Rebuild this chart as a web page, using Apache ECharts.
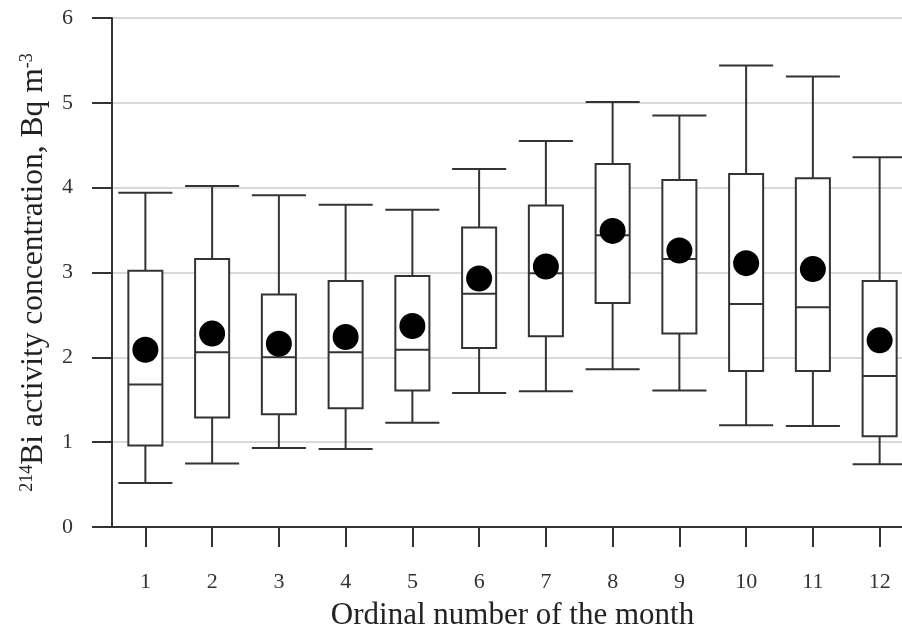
<!DOCTYPE html>
<html>
<head>
<meta charset="utf-8">
<script src="https://cdn.jsdelivr.net/npm/echarts@6/dist/echarts.min.js"></script>
<style>
html,body{margin:0;padding:0;background:#fff;overflow:hidden;}
#chart{width:902px;height:629px;}
</style>
</head>
<body>
<div id="chart"></div>
<script>
var months = ['1','2','3','4','5','6','7','8','9','10','11','12'];
var whiskerLow  = [0.52,0.75,0.93,0.92,1.23,1.58,1.60,1.86,1.61,1.20,1.19,0.74];
var q1          = [0.96,1.29,1.33,1.40,1.61,2.11,2.25,2.64,2.28,1.84,1.84,1.07];
var median      = [1.68,2.06,2.00,2.06,2.09,2.75,2.99,3.44,3.16,2.63,2.59,1.78];
var q3          = [3.02,3.16,2.74,2.90,2.96,3.53,3.79,4.28,4.09,4.16,4.11,2.90];
var whiskerHigh = [3.94,4.02,3.91,3.80,3.74,4.22,4.55,5.01,4.85,5.44,5.31,4.36];
var meanVal     = [2.09,2.28,2.16,2.24,2.37,2.93,3.07,3.49,3.26,3.11,3.04,2.20];
var yTicks = [0,1,2,3,4,5,6];

var boxData = months.map(function(m, i){
  return [i, whiskerLow[i], q1[i], median[i], q3[i], whiskerHigh[i]];
});

var lineColor = '#333';
var font = '"Liberation Serif", "Times New Roman", serif';

var chart = echarts.init(document.getElementById('chart'));
chart.setOption({
  backgroundColor: '#fff',
  animation: false,
  grid: {left: 112, top: 18, width: 801, height: 509, containLabel: false, outerBoundsMode: 'none'},
  xAxis: {
    type: 'category',
    data: months,
    name: 'Ordinal number of the month',
    nameLocation: 'middle',
    nameGap: 73,
    nameTextStyle: {fontFamily: font, fontSize: 31, color: '#222'},
    axisLine: {lineStyle: {color: lineColor, width: 2}},
    axisTick: {show: true, alignWithLabel: true, length: 20, lineStyle: {color: lineColor, width: 2}},
    axisLabel: {margin: 44, fontFamily: font, fontSize: 22, color: '#333'},
    splitLine: {show: false}
  },
  yAxis: {
    type: 'value',
    min: 0, max: 6, interval: 1,
    name: '{sup|214}Bi activity concentration, Bq m{sup|-3}',
    nameLocation: 'middle',
    nameGap: 62,
    nameTextStyle: {
      fontFamily: font, fontSize: 31.5, color: '#222',
      rich: {sup: {fontFamily: font, fontSize: 18, color: '#222', verticalAlign: 'top'}}
    },
    axisLine: {show: true, lineStyle: {color: lineColor, width: 2}},
    axisTick: {show: true, length: 20, lineStyle: {color: lineColor, width: 2}},
    axisLabel: {margin: 39, fontFamily: font, fontSize: 22, color: '#333',
      formatter: function(v){ return yTicks.indexOf(v) >= 0 ? String(v) : ''; }},
    splitLine: {show: true, lineStyle: {color: '#cccccc', width: 1.5}}
  },
  series: [
    {
      type: 'custom',
      data: boxData,
      encode: {x: 0, y: [1,2,3,4,5]},
      renderItem: function(params, api){
        var x = api.value(0);
        var pLow = api.coord([x, api.value(1)]);
        var pQ1 = api.coord([x, api.value(2)]);
        var pMed = api.coord([x, api.value(3)]);
        var pQ3 = api.coord([x, api.value(4)]);
        var pHigh = api.coord([x, api.value(5)]);
        var band = api.size([1, 0])[0];
        var bw = band * 0.51, cw = band * 0.81;
        var cx = pLow[0];
        var st = {stroke: lineColor, lineWidth: 2, fill: null};
        return {
          type: 'group',
          children: [
            {type: 'line', shape: {x1: cx, y1: pLow[1], x2: cx, y2: pQ1[1]}, style: st},
            {type: 'line', shape: {x1: cx, y1: pQ3[1], x2: cx, y2: pHigh[1]}, style: st},
            {type: 'line', shape: {x1: cx - cw/2, y1: pLow[1], x2: cx + cw/2, y2: pLow[1]}, style: st},
            {type: 'line', shape: {x1: cx - cw/2, y1: pHigh[1], x2: cx + cw/2, y2: pHigh[1]}, style: st},
            {type: 'rect', shape: {x: cx - bw/2, y: pQ3[1], width: bw, height: pQ1[1] - pQ3[1]},
              style: {stroke: lineColor, lineWidth: 2, fill: '#fff'}},
            {type: 'line', shape: {x1: cx - bw/2, y1: pMed[1], x2: cx + bw/2, y2: pMed[1]}, style: st}
          ]
        };
      },
      z: 2
    },
    {
      type: 'scatter',
      data: meanVal,
      symbol: 'circle',
      symbolSize: 26,
      itemStyle: {color: '#000', opacity: 1},
      z: 3
    }
  ]
});
</script>
</body>
</html>
